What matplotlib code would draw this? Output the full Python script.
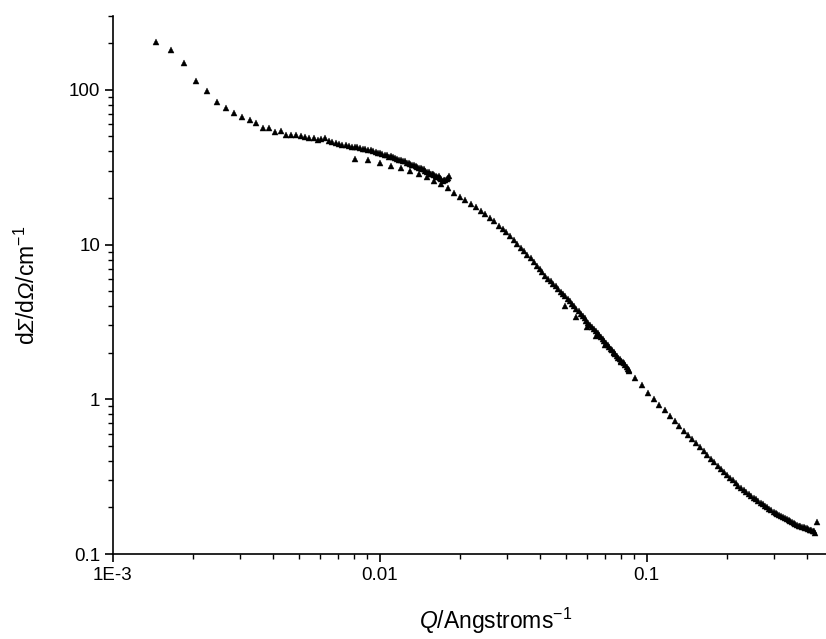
import matplotlib
matplotlib.use("Agg")
import matplotlib.pyplot as plt
from matplotlib.ticker import FixedLocator, FixedFormatter, LogLocator, NullFormatter

plt.rcParams['font.family'] = ['Liberation Sans', 'DejaVu Sans']
plt.rcParams['mathtext.fontset'] = 'custom'
plt.rcParams['mathtext.rm'] = 'Liberation Sans'
plt.rcParams['mathtext.it'] = 'Liberation Sans:italic'
# slanted Greek capitals for the ordinate symbol
plt.rcParams['mathtext.sf'] = 'Liberation Sans:italic'

# Long sample-detector distance (low Q)
q_low = [0.00146, 0.00166, 0.00186, 0.00206, 0.00226, 0.00246, 0.00266, 0.00286, 0.00306, 0.00326,
         0.00346, 0.00366, 0.00386, 0.00406, 0.00426, 0.00446, 0.00466, 0.00486, 0.00506, 0.00526,
         0.00546, 0.00566, 0.00586, 0.00606, 0.00626, 0.00646, 0.00666, 0.00686, 0.00706, 0.00726,
         0.00746, 0.00766, 0.00786, 0.00806, 0.00826, 0.00846, 0.00866, 0.00886, 0.00906, 0.00926,
         0.00946, 0.00966, 0.00986, 0.01006, 0.01026, 0.01046, 0.01066, 0.01086, 0.01106, 0.01126,
         0.01146, 0.01166, 0.01186, 0.01206, 0.01226, 0.01246, 0.01266, 0.01286, 0.01306, 0.01326,
         0.01346, 0.01366, 0.01386, 0.01406, 0.01426, 0.01446, 0.01466, 0.01486, 0.01506, 0.01526,
         0.01546, 0.01566, 0.01586, 0.01606, 0.01626, 0.01646, 0.01666, 0.01686, 0.01706, 0.01726,
         0.01746, 0.01766, 0.01786, 0.01806, 0.01826]
i_low = [204, 181, 149, 114, 98.1, 83.7, 76.9, 70.7, 66.3, 64.0,
         61.2, 56.6, 56.9, 53.8, 54.6, 51.2, 51.2, 51.0, 50.5, 49.8,
         49.2, 48.8, 47.4, 48.0, 48.5, 46.5, 45.9, 45.6, 44.7, 44.2,
         43.7, 43.4, 42.9, 42.7, 42.5, 42.1, 41.5, 41.4, 41.0, 40.6,
         40.4, 39.7, 39.2, 38.8, 38.5, 38.2, 37.8, 37.0, 37.1, 36.7,
         36.3, 35.9, 35.4, 35.0, 34.7, 34.6, 33.9, 33.6, 33.2, 32.9,
         32.6, 32.2, 31.9, 31.2, 31.2, 30.8, 30.6, 30.0, 29.6, 29.3,
         28.8, 28.7, 28.4, 28.1, 27.8, 27.3, 27.6, 26.9, 26.4, 25.9,
         26.0, 26.2, 26.6, 27.0, 27.6]

# Intermediate sample-detector distance
q_mid = [0.00810, 0.00909, 0.01008, 0.01107, 0.01206, 0.01305, 0.01404, 0.01503, 0.01602, 0.01701,
         0.01800, 0.01899, 0.01998, 0.02097, 0.02196, 0.02295, 0.02394, 0.02493, 0.02592, 0.02691,
         0.02790, 0.02889, 0.02988, 0.03087, 0.03186, 0.03285, 0.03384, 0.03483, 0.03582, 0.03681,
         0.03780, 0.03879, 0.03978, 0.04077, 0.04176, 0.04275, 0.04374, 0.04473, 0.04572, 0.04671,
         0.04770, 0.04869, 0.04968, 0.05067, 0.05166, 0.05265, 0.05364, 0.05463, 0.05562, 0.05661,
         0.05760, 0.05859, 0.05958, 0.06057, 0.06156, 0.06255, 0.06354, 0.06453, 0.06552, 0.06651,
         0.06750, 0.06849, 0.06948, 0.07047, 0.07146, 0.07245, 0.07344, 0.07443, 0.07542, 0.07641,
         0.07740, 0.07839, 0.07938, 0.08037, 0.08136, 0.08235, 0.08334, 0.08433, 0.08532, 0.08631]
i_mid = [35.7, 35.2, 33.6, 32.0, 31.4, 30.0, 28.6, 27.3, 25.6, 24.6,
         23.1, 21.6, 20.3, 19.5, 18.3, 17.4, 16.6, 15.8, 14.8, 14.1,
         13.2, 12.6, 12.0, 11.3, 10.7, 10.05, 9.53, 9.09, 8.60, 8.13,
         7.70, 7.31, 6.97, 6.60, 6.27, 6.01, 5.80, 5.60, 5.37, 5.16,
         4.97, 4.79, 4.64, 4.46, 4.29, 4.13, 3.98, 3.83, 3.70, 3.57,
         3.45, 3.33, 3.22, 3.12, 3.02, 2.93, 2.83, 2.75, 2.67, 2.59,
         2.51, 2.44, 2.37, 2.30, 2.24, 2.18, 2.12, 2.07, 2.01, 1.96,
         1.91, 1.86, 1.82, 1.77, 1.73, 1.71, 1.66, 1.62, 1.58, 1.52]

# Short sample-detector distance (high Q)
q_high = [0.0493, 0.0545, 0.0597, 0.0649, 0.0701, 0.0753, 0.0805, 0.0857, 0.0909, 0.0961,
          0.1013, 0.1065, 0.1117, 0.1169, 0.1221, 0.1273, 0.1325, 0.1377, 0.1429, 0.1481,
          0.1533, 0.1585, 0.1637, 0.1689, 0.1741, 0.1793, 0.1845, 0.1897, 0.1949, 0.2001,
          0.2053, 0.2105, 0.2157, 0.2209, 0.2261, 0.2313, 0.2365, 0.2417, 0.2469, 0.2521,
          0.2573, 0.2625, 0.2677, 0.2729, 0.2781, 0.2833, 0.2885, 0.2937, 0.2989, 0.3041,
          0.3093, 0.3145, 0.3197, 0.3249, 0.3301, 0.3353, 0.3405, 0.3457, 0.3509, 0.3561,
          0.3613, 0.3665, 0.3717, 0.3769, 0.3821, 0.3873, 0.3925, 0.3977, 0.4029, 0.4081,
          0.4133, 0.4185, 0.4237, 0.4289, 0.4341]
i_high = [4.00, 3.42, 2.93, 2.56, 2.25, 2.00, 1.75, 1.54, 1.37, 1.23,
          1.105, 1.00, 0.921, 0.851, 0.784, 0.722, 0.672, 0.625, 0.586, 0.550,
          0.518, 0.490, 0.463, 0.436, 0.412, 0.391, 0.372, 0.354, 0.338, 0.324,
          0.310, 0.299, 0.287, 0.277, 0.268, 0.260, 0.252, 0.2444, 0.2377, 0.2314,
          0.2253, 0.2198, 0.2145, 0.2094, 0.2045, 0.2000, 0.1959, 0.1919, 0.1881, 0.1844,
          0.1812, 0.1783, 0.1756, 0.1729, 0.1703, 0.1681, 0.1656, 0.1631, 0.1606, 0.1582,
          0.1559, 0.1542, 0.1527, 0.1513, 0.1499, 0.1485, 0.1472, 0.1463, 0.1448, 0.1435,
          0.1440, 0.1400, 0.1415, 0.1372, 0.1616]

x_ticks = [0.001, 0.01, 0.1]
x_tick_labels = ['1E-3', '0.01', '0.1']
y_ticks = [0.1, 1, 10, 100]
y_tick_labels = ['0.1', '1', '10', '100']

fig = plt.figure(figsize=(8.26, 6.39), dpi=100)
ax = fig.add_axes([0.1362, 0.1330, 0.8638, 0.8419])

for q, i in ((q_low, i_low), (q_mid, i_mid), (q_high, i_high)):
    ax.plot(q, i, linestyle='none', marker='^', markersize=4.2,
            color='black', markeredgewidth=0.3, clip_on=False)

ax.set_xscale('log')
ax.set_yscale('log')
ax.set_xlim(0.001, 0.47)
ax.set_ylim(0.1, 300)

ax.xaxis.set_major_locator(FixedLocator(x_ticks))
ax.xaxis.set_major_formatter(FixedFormatter(x_tick_labels))
ax.xaxis.set_minor_locator(LogLocator(base=10, subs=range(2, 10)))
ax.xaxis.set_minor_formatter(NullFormatter())
ax.yaxis.set_major_locator(FixedLocator(y_ticks))
ax.yaxis.set_major_formatter(FixedFormatter(y_tick_labels))
ax.yaxis.set_minor_locator(LogLocator(base=10, subs=range(2, 10)))
ax.yaxis.set_minor_formatter(NullFormatter())

for side in ('top', 'right'):
    ax.spines[side].set_visible(False)
for side in ('left', 'bottom'):
    ax.spines[side].set_linewidth(1.2)

ax.tick_params(which='major', direction='out', length=6, width=1.2,
               labelsize=13.5, pad=3)
ax.tick_params(which='minor', direction='out', length=3.5, width=1.0)

ax.set_xlabel('$\\mathit{Q}$/Angstroms$^{-1}$', fontsize=16.5)
ax.set_ylabel('d$\\mathsf{Σ}$/d$\\mathsf{Ω}$/cm$^{-1}$', fontsize=16.5)
ax.xaxis.set_label_coords(0.5375, -0.097)
ax.yaxis.set_label_coords(-0.1016, 0.5)

fig.savefig('out.png', dpi=100)
